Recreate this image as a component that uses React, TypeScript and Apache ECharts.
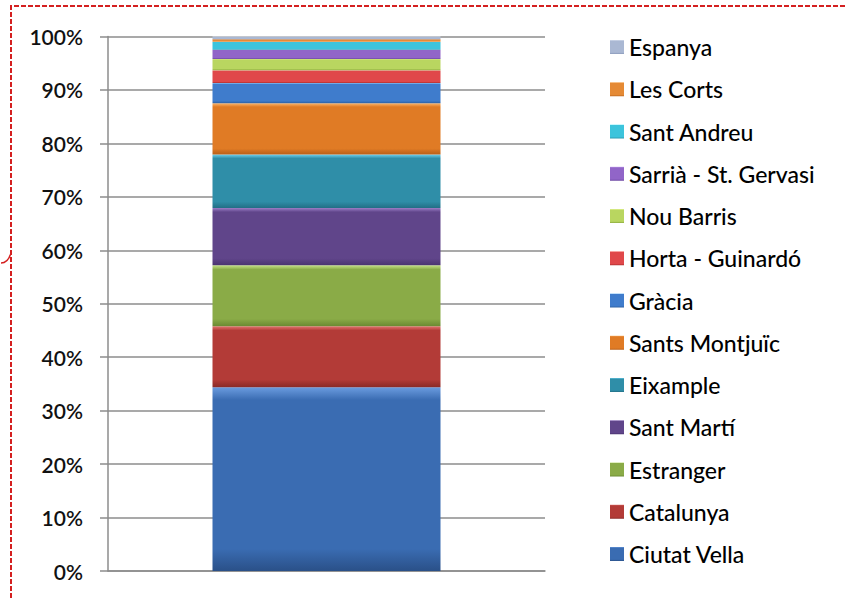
import React, { useEffect, useRef } from "react";
import * as echarts from "echarts";

const categories = ["Total"];
const seriesNames = [
  "Ciutat Vella",
  "Catalunya",
  "Estranger",
  "Sant Martí",
  "Eixample",
  "Sants Montjuïc",
  "Gràcia",
  "Horta - Guinardó",
  "Nou Barris",
  "Sarrià - St. Gervasi",
  "Sant Andreu",
  "Les Corts",
  "Espanya",
];
const seriesValues = [34.4, 11.4, 11.4, 10.7, 10.0, 9.6, 3.8, 2.4, 2.1, 1.7, 1.5, 0.5, 0.5];
const yTickStep = 10;
const yMax = 100;

// [light, mid, dark]
const seriesColors: [string, string, string][] = [
  ["#6b9ce0", "#3a6cb2", "#2a5088"],
  ["#e47570", "#b33b37", "#8a2a27"],
  ["#c6e288", "#8aab47", "#6a8a32"],
  ["#9a7dc5", "#60458a", "#4a3370"],
  ["#6ed0ec", "#2f8ea8", "#226e85"],
  ["#fbb56a", "#e07b25", "#b85f18"],
  ["#8ac4f8", "#3f7ccc", "#2d5fa0"],
  ["#ff9a95", "#e0484a", "#b03030"],
  ["#eefaa0", "#b9d660", "#8cab3e"],
  ["#d0b0f6", "#9165c8", "#6a45a0"],
  ["#98f2fc", "#3cc4dc", "#2a98ae"],
  ["#fbb870", "#e58a35", "#c06a20"],
  ["#dde4f2", "#aab8d3", "#8a9abb"],
];

function grad(c: [string, string, string]) {
  return new echarts.graphic.LinearGradient(0, 0, 0, 1, [
    { offset: 0, color: c[0] },
    { offset: 0.07, color: c[1] },
    { offset: 0.88, color: c[1] },
    { offset: 1, color: c[2] },
  ]);
}

export default function App() {
  const ref = useRef<HTMLDivElement>(null);
  useEffect(() => {
    if (!ref.current) return;
    const chart = echarts.init(ref.current, undefined, { renderer: "svg" });
    const series = seriesNames.map((name, i) => ({
      name,
      type: "bar",
      stack: "total",
      barWidth: 228,
      data: [seriesValues[i]],
      itemStyle: { color: grad(seriesColors[i]) },
    }));
    chart.setOption({
      animation: false,
      backgroundColor: "#ffffff",
      grid: { left: 108, right: 300, top: 36.5, bottom: 27 },
      xAxis: {
        type: "category",
        data: categories,
        axisLine: { show: true, lineStyle: { color: "#8c8c8c", width: 1.5 } },
        axisTick: { show: false },
        axisLabel: { show: false },
      },
      yAxis: {
        type: "value",
        min: 0,
        max: yMax,
        interval: yTickStep,
        axisLine: { show: true, lineStyle: { color: "#8c8c8c", width: 1.5 } },
        axisTick: { show: true, length: 8, lineStyle: { color: "#8c8c8c", width: 1.5 } },
        splitLine: { show: true, lineStyle: { color: "#8c8c8c", width: 1.5 } },
        axisLabel: {
          formatter: (v: number) => v + "%",
          margin: 25,
          color: "#111",
          fontFamily: "Lato",
          fontWeight: 600,
          fontSize: 21,
        },
      },
      legend: {
        orient: "vertical",
        left: 610,
        top: 35,
        padding: 0,
        icon: "rect",
        itemWidth: 14,
        itemHeight: 14,
        itemGap: 18.25,
        data: [...seriesNames].reverse(),
        textStyle: {
          fontFamily: "Lato",
          fontWeight: 500,
          fontSize: 23,
          lineHeight: 24,
          color: "#000",
          padding: [0, 0, 0, 0],
        },
      },
      graphic: [
        {
          type: "polyline",
          shape: { points: [[11, 598], [11, 6], [845, 6]] },
          style: { stroke: "#d42020", lineWidth: 2, lineDash: [5, 2], fill: null },
        },
        {
          type: "bezierCurve",
          shape: { x1: 1, y1: 263, x2: 11, y2: 253, cpx1: 8, cpy1: 263 },
          style: { stroke: "#d42020", lineWidth: 1.5, fill: null },
        },
      ],
      series,
    });
    return () => chart.dispose();
  }, []);
  return (
    <div
      ref={ref}
      style={{ position: "absolute", left: 0, top: 0, width: 845, height: 598 }}
    />
  );
}
